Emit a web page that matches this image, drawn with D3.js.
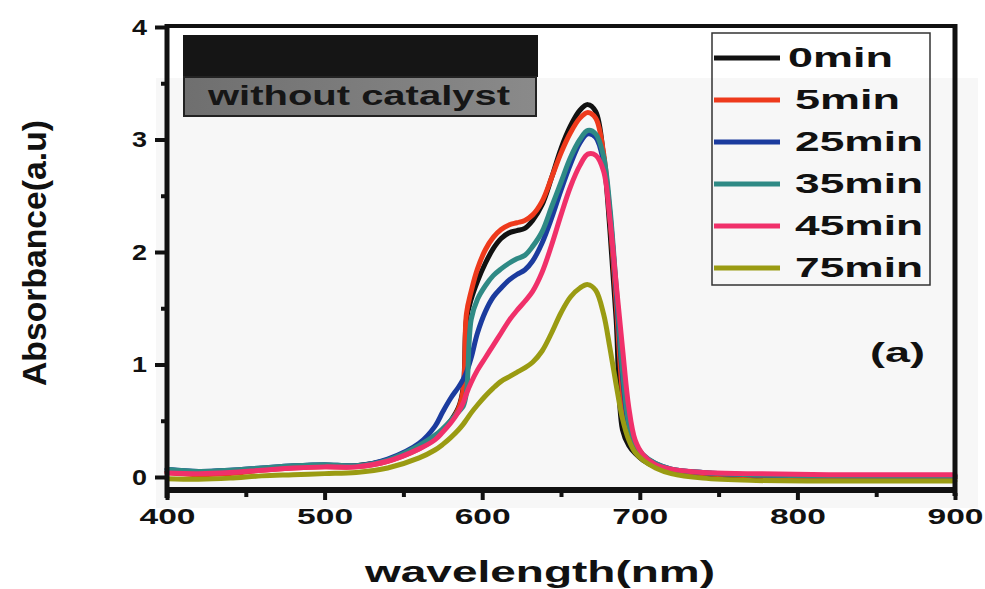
<!DOCTYPE html>
<html>
<head>
<meta charset="utf-8">
<script src="https://cdn.jsdelivr.net/npm/d3@7"></script>
<style>
  html, body { margin: 0; padding: 0; background: #fff; }
  svg text { font-family: "Liberation Sans", Arial, sans-serif; font-weight: bold; }
</style>
</head>
<body>
<div id="chart"></div>
<script>
/* ── Data ────────────────────────────────────────────────────────────── */
const WAVELENGTH = [400, 420, 440, 460, 480, 500, 520, 540, 560, 570, 575, 580, 585, 588, 590,
  593, 597, 602, 607, 612, 617, 622, 627, 632, 638, 644, 650, 656, 662, 667, 672, 677, 681,
  685, 689, 693, 697, 702, 710, 720, 740, 770, 820, 900];

const ABS_0MIN  = [.05, .03, .04, .07, .09, .10, .10, .15, .26, .35, .42, .50, .62, .80, 1.40,
  1.58, 1.74, 1.90, 2.03, 2.12, 2.17, 2.19, 2.21, 2.28, 2.42, 2.66, 2.92, 3.12, 3.26, 3.31, 3.25, 2.85, 2.20,
  1.40, 0.42, 0.28, 0.21, 0.15, 0.09, 0.05, 0.02, 0.0, -0.01, -0.01];
const ABS_5MIN  = [.04, .02, .03, .06, .08, .09, .09, .14, .25, .34, .41, .49, .61, .78, 1.45,
  1.65, 1.85, 2.02, 2.13, 2.20, 2.24, 2.26, 2.28, 2.33, 2.45, 2.66, 2.88, 3.06, 3.19, 3.24, 3.19, 2.88, 2.30,
  1.55, 0.75, 0.36, 0.24, 0.17, 0.10, 0.06, 0.03, 0.01, 0.0, 0.0];
const ABS_25MIN = [.07, .05, .06, .08, .10, .11, .10, .16, .30, .45, .58, .70, .80, .87, .93,
  1.06, 1.28, 1.47, 1.60, 1.68, 1.75, 1.80, 1.84, 1.92, 2.08, 2.30, 2.55, 2.78, 2.97, 3.05, 3.02, 2.80, 2.35,
  1.65, 0.90, 0.45, 0.28, 0.19, 0.12, 0.07, 0.04, 0.02, 0.01, 0.01];
const ABS_35MIN = [.07, .05, .06, .08, .10, .11, .10, .15, .28, .37, .43, .50, .58, .63, .75,
  1.40, 1.58, 1.70, 1.79, 1.85, 1.90, 1.94, 1.97, 2.05, 2.18, 2.40, 2.62, 2.84, 3.00, 3.08, 3.05, 2.85, 2.40,
  1.70, 0.95, 0.48, 0.30, 0.20, 0.12, 0.07, 0.04, 0.02, 0.01, 0.01];
const ABS_45MIN = [.035, .03, .04, .06, .08, .09, .09, .14, .25, .33, .40, .48, .58, .66, .74,
  .84, .95, 1.06, 1.17, 1.28, 1.39, 1.48, 1.56, 1.65, 1.82, 2.06, 2.33, 2.58, 2.77, 2.87, 2.86, 2.72, 2.30,
  1.72, 1.15, 0.62, 0.33, 0.20, 0.11, 0.07, 0.04, 0.03, 0.02, 0.02];
const ABS_75MIN = [-.015, -.02, -.01, .01, .02, .03, .04, .08, .17, .24, .29, .35, .42, .47, .51,
  .57, .64, .72, .79, .85, .89, .93, .97, 1.02, 1.12, 1.28, 1.46, 1.60, 1.68, 1.71, 1.66, 1.45, 1.15,
  0.82, 0.52, 0.33, 0.22, 0.15, 0.08, 0.03, -0.01, -0.03, -0.035, -0.035];

const SERIES_NAMES  = ['0min', '5min', '25min', '35min', '45min', '75min'];
const SERIES_VALUES = [ABS_0MIN, ABS_5MIN, ABS_25MIN, ABS_35MIN, ABS_45MIN, ABS_75MIN];
const SERIES_COLORS = ['#111111', '#ee3a1c', '#1b3b9e', '#2f8a85', '#f0306a', '#9a9b12'];

const X_TICKS = [400, 500, 600, 700, 800, 900];
const Y_TICKS = [0, 1, 2, 3, 4];

/* ── Layout ──────────────────────────────────────────────────────────── */
const W = 985, H = 589;
const X0 = 167, X1 = 955;     // 400nm .. 900nm
const Y_BOT = 490;            // bottom spine
const Y_TOP = 26;             // top spine

const svg = d3.select('#chart').append('svg')
  .attr('width', W).attr('height', H)
  .attr('viewBox', `0 0 ${W} ${H}`);

svg.append('rect').attr('width', W).attr('height', H).attr('fill', '#fff');
// scanned-paper tint under the plot
svg.append('rect').attr('x', 156).attr('y', 78).attr('width', 822).attr('height', 430)
  .attr('fill', '#f7f7f7');

const x = d3.scaleLinear().domain([400, 900]).range([X0, X1]);
const y = d3.scaleLinear().domain([0, 4]).range([477, 27]);

/* ── Curves ──────────────────────────────────────────────────────────── */
const line = d3.line()
  .x(d => x(d[0]))
  .y(d => y(d[1]))
  .curve(d3.curveCatmullRom.alpha(0.5));

const curveG = svg.append('g');
SERIES_VALUES.forEach((vals, i) => {
  curveG.append('path')
    .datum(WAVELENGTH.map((w, j) => [w, vals[j]]))
    .attr('d', line)
    .attr('fill', 'none')
    .attr('stroke', SERIES_COLORS[i])
    .attr('stroke-width', 5)
    .attr('stroke-linejoin', 'round')
    .attr('stroke-linecap', 'round');
});

/* ── Frame ───────────────────────────────────────────────────────────── */
const frame = svg.append('g').attr('stroke', '#111').attr('fill', 'none');
frame.append('line').attr('x1', X0 - 2).attr('x2', X1 + 2).attr('y1', Y_BOT).attr('y2', Y_BOT).attr('stroke-width', 6);
frame.append('line').attr('x1', X0).attr('x2', X0).attr('y1', Y_TOP - 2).attr('y2', Y_BOT + 8).attr('stroke-width', 5);
frame.append('line').attr('x1', X0).attr('x2', X1 + 2).attr('y1', Y_TOP).attr('y2', Y_TOP).attr('stroke-width', 4);
frame.append('line').attr('x1', X1).attr('x2', X1).attr('y1', Y_TOP - 2).attr('y2', Y_BOT + 6).attr('stroke-width', 5);

/* ── Axes ────────────────────────────────────────────────────────────── */
const xAxis = svg.append('g')
  .attr('transform', `translate(0,${Y_BOT + 3})`)
  .call(d3.axisBottom(x).tickValues(X_TICKS).tickSize(7).tickPadding(8).tickFormat(d3.format('d')));
svg.append('g')
  .attr('transform', `translate(0,${Y_BOT + 3})`)
  .call(d3.axisBottom(x).tickValues(d3.range(450, 900, 100)).tickSize(4).tickFormat(''))
  .call(g => g.select('.domain').remove());

const yAxis = svg.append('g')
  .attr('transform', `translate(${X0 - 2},0)`)
  .call(d3.axisLeft(y).tickValues(Y_TICKS).tickSize(10).tickPadding(8).tickFormat(d3.format('d')));
svg.append('g')
  .attr('transform', `translate(${X0 - 2},0)`)
  .call(d3.axisLeft(y).tickValues([0.5, 1.5, 2.5, 3.5]).tickSize(4).tickFormat(''))
  .call(g => g.select('.domain').remove());

svg.selectAll('.domain').remove();
svg.selectAll('.tick line').attr('stroke', '#111').attr('stroke-width', 4);

xAxis.selectAll('text')
  .attr('fill', '#111').attr('font-size', 22).attr('dy', '0.72em')
  .attr('textLength', 56).attr('lengthAdjust', 'spacingAndGlyphs');
yAxis.selectAll('text')
  .attr('fill', '#111').attr('font-size', 22)
  .attr('textLength', 15).attr('lengthAdjust', 'spacingAndGlyphs');

/* ── Axis titles ─────────────────────────────────────────────────────── */
svg.append('text')
  .attr('x', 540).attr('y', 582)
  .attr('text-anchor', 'middle')
  .attr('font-size', 30).attr('fill', '#111')
  .attr('textLength', 350).attr('lengthAdjust', 'spacingAndGlyphs')
  .text('wavelength(nm)');

svg.append('text')
  .attr('transform', 'translate(46,253) rotate(-90)')
  .attr('text-anchor', 'middle')
  .attr('font-size', 34).attr('fill', '#111')
  .attr('textLength', 266).attr('lengthAdjust', 'spacingAndGlyphs')
  .text('Absorbance(a.u)');

/* ── "without catalyst" label box ────────────────────────────────────── */
svg.append('rect').attr('x', 183).attr('y', 35).attr('width', 355).attr('height', 42).attr('fill', '#151515');
const grad = svg.append('defs').append('linearGradient').attr('id', 'greyBox');
grad.append('stop').attr('offset', '0%').attr('stop-color', '#6f6f6f');
grad.append('stop').attr('offset', '100%').attr('stop-color', '#8a8a8a');
svg.append('rect').attr('x', 184).attr('y', 77).attr('width', 352).attr('height', 39)
  .attr('fill', 'url(#greyBox)').attr('stroke', '#222').attr('stroke-width', 2);
svg.append('text')
  .attr('x', 359).attr('y', 105)
  .attr('text-anchor', 'middle')
  .attr('font-size', 27).attr('fill', '#161616')
  .attr('textLength', 302).attr('lengthAdjust', 'spacingAndGlyphs')
  .text('without catalyst');

/* ── Legend ──────────────────────────────────────────────────────────── */
const LEG_X = 712, LEG_Y = 33, LEG_W = 218, LEG_H = 252, LEG_STEP = 42;
const leg = svg.append('g');
leg.append('rect')
  .attr('x', LEG_X).attr('y', LEG_Y).attr('width', LEG_W).attr('height', LEG_H)
  .attr('fill', 'none').attr('stroke', '#333').attr('stroke-width', 1.5);

SERIES_NAMES.forEach((name, i) => {
  const ly = LEG_Y + 25 + i * LEG_STEP;
  leg.append('line')
    .attr('x1', LEG_X + 2).attr('x2', LEG_X + 68)
    .attr('y1', ly).attr('y2', ly)
    .attr('stroke', SERIES_COLORS[i]).attr('stroke-width', 5);
  leg.append('text')
    .attr('x', i === 0 ? LEG_X + 76 : LEG_X + 83)
    .attr('y', ly + 9)
    .attr('font-size', 28).attr('fill', '#111')
    .attr('textLength', name.length === 4 ? 105 : 128)
    .attr('lengthAdjust', 'spacingAndGlyphs')
    .text(name);
});

/* ── Panel tag ───────────────────────────────────────────────────────── */
svg.append('text')
  .attr('x', 870).attr('y', 362)
  .attr('font-size', 28).attr('fill', '#111')
  .attr('textLength', 55).attr('lengthAdjust', 'spacingAndGlyphs')
  .text('(a)');
</script>
</body>
</html>
